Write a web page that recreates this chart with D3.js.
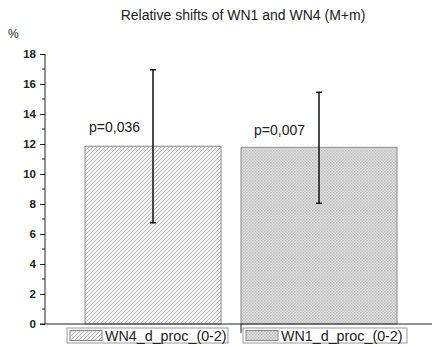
<!DOCTYPE html>
<html>
<head>
<meta charset="utf-8">
<script src="https://cdn.jsdelivr.net/npm/d3@7"></script>
<style>
  body { margin: 0; background: #fff; }
  svg { display: block; font-family: Arial, "Liberation Sans", sans-serif; }
</style>
</head>
<body>
<svg width="432" height="347"></svg>
<script>
// data
const categories = ['WN4_d_proc_(0-2)', 'WN1_d_proc_(0-2)']
const means = [11.85, 11.78]
const errLow = [6.75, 8.05]
const errHigh = [16.95, 15.45]
const pLabels = ['p=0,036', 'p=0,007']
const yTicks = [0, 2, 4, 6, 8, 10, 12, 14, 16, 18]

// drawing style
const barWidths = [136, 156]
const fills = ['url(#hatch)', 'url(#dots)']

let svg = d3.select('svg')

// fill patterns
let defs = svg.append('defs')
let hatch = defs.append('pattern')
    .attr('id', 'hatch')
    .attr('patternUnits', 'userSpaceOnUse')
    .attr('width', 4).attr('height', 4)
hatch.append('rect').attr('width', 4).attr('height', 4).attr('fill', '#f4f4f4')
hatch.append('path')
    .attr('d', 'M-1,1 l2,-2 M0,4 l4,-4 M3,5 l2,-2')
    .attr('stroke', '#a8a8a8').attr('stroke-width', 0.8)

let dots = defs.append('pattern')
    .attr('id', 'dots')
    .attr('patternUnits', 'userSpaceOnUse')
    .attr('width', 3).attr('height', 3)
dots.append('rect').attr('width', 3).attr('height', 3).attr('fill', '#e2e2e2')
dots.append('rect').attr('width', 1.5).attr('height', 1.5).attr('fill', '#bdbdbd')
dots.append('rect').attr('x', 1.5).attr('y', 1.5).attr('width', 1.5).attr('height', 1.5).attr('fill', '#c4c4c4')

let y = d3.scaleLinear().domain([0, 18]).range([324, 54])
let x = d3.scalePoint().domain(categories).range([153, 319])

// title
svg.append('text')
    .attr('x', 243).attr('y', 20)
    .attr('text-anchor', 'middle')
    .attr('font-size', 14)
    .attr('fill', '#222')
    .text('Relative shifts of WN1 and WN4 (M+m)')

svg.append('text')
    .attr('x', 8).attr('y', 38)
    .attr('font-size', 12)
    .attr('fill', '#222')
    .text('%')

// bars
svg.append('g').selectAll('rect')
    .data(categories)
    .enter().append('rect')
    .attr('x', (d, i) => x(d) - barWidths[i] / 2)
    .attr('y', (d, i) => y(means[i]))
    .attr('width', (d, i) => barWidths[i])
    .attr('height', (d, i) => y(0) - y(means[i]))
    .attr('fill', (d, i) => fills[i])
    .attr('stroke', '#8a8a8a')
    .attr('stroke-width', 1)

// error bars
let err = svg.append('g').attr('stroke', '#111').attr('stroke-width', 1.5)
categories.forEach((c, i) => {
  let cx = x(c)
  err.append('line').attr('x1', cx).attr('x2', cx).attr('y1', y(errLow[i])).attr('y2', y(errHigh[i]))
  err.append('line').attr('x1', cx - 3).attr('x2', cx + 3).attr('y1', y(errLow[i])).attr('y2', y(errLow[i]))
  err.append('line').attr('x1', cx - 3).attr('x2', cx + 3).attr('y1', y(errHigh[i])).attr('y2', y(errHigh[i]))
})

// p labels
const pOffsets = [[-64, 132], [-65, 135]]
categories.forEach((c, i) => {
  svg.append('text')
      .attr('x', x(c) + pOffsets[i][0]).attr('y', pOffsets[i][1])
      .attr('font-size', 14)
      .attr('fill', '#222')
      .text(pLabels[i])
})

// y axis
let yAxis = svg.append('g')
    .attr('transform', 'translate(45,0)')
    .call(d3.axisLeft(y).tickValues(yTicks).tickSize(5).tickPadding(4))
yAxis.select('.domain').attr('d', 'M0,' + y(18) + 'V' + y(0)).attr('stroke', '#222')
yAxis.selectAll('.tick line').attr('stroke', '#222')
yAxis.selectAll('.tick text')
    .attr('font-size', 11.5).attr('font-weight', 'bold').attr('fill', '#222')
    .attr('font-family', 'Arial, "Liberation Sans", sans-serif')
// minor ticks
yAxis.append('g').selectAll('line')
    .data(d3.range(1, 18, 2))
    .enter().append('line')
    .attr('x1', -3).attr('x2', 0)
    .attr('y1', d => y(d)).attr('y2', d => y(d))
    .attr('stroke', '#222')

// x axis line
svg.append('line')
    .attr('x1', 40).attr('x2', 432)
    .attr('y1', y(0)).attr('y2', y(0))
    .attr('stroke', '#222').attr('stroke-width', 1)
svg.append('line')
    .attr('x1', x(categories[1]) - barWidths[1] / 2).attr('x2', x(categories[1]) - barWidths[1] / 2)
    .attr('y1', y(0)).attr('y2', y(0) + 9)
    .attr('stroke', '#222')

// legend
let legendX = [67, 243]
let legendW = [161, 164]
categories.forEach((c, i) => {
  let g = svg.append('g').attr('transform', 'translate(' + legendX[i] + ',328)')
  g.append('rect').attr('width', legendW[i]).attr('height', 15)
      .attr('fill', '#fff').attr('stroke', '#999')
  g.append('rect').attr('x', 3).attr('y', 2.5).attr('width', 32).attr('height', 10)
      .attr('fill', fills[i]).attr('stroke', '#888')
  g.append('text').attr('x', 38).attr('y', 12.5)
      .attr('font-size', 14.3).attr('fill', '#222')
      .text(c)
})
</script>
</body>
</html>
